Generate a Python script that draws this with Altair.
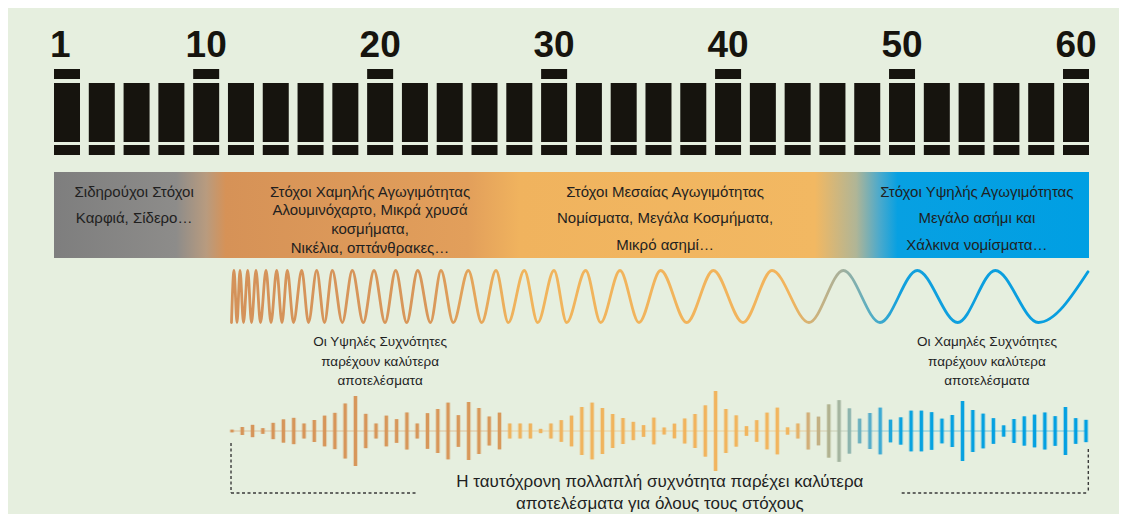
import altair as alt
import pandas as pd

# ---------------- data ----------------
# frequency dial: 30 positions, labelled ticks
DIAL_INDEX = list(range(30))
DIAL_LABELS = ["1", "10", "20", "30", "40", "50", "60"]
DIAL_LABEL_INDEX = [0, 4, 9, 14, 19, 24, 29]

# target groups (on the dial scale)
GROUP_TITLES = [
    "Σιδηρούχοι Στόχοι",
    "Στόχοι Χαμηλής Αγωγιμότητας",
    "Στόχοι Μεσαίας Αγωγιμότητας",
    "Στόχοι Υψηλής Αγωγιμότητας",
]
GROUP_EXAMPLES = [
    "Καρφιά, Σίδερο…",
    "Αλουμινόχαρτο, Μικρά χρυσά\nκοσμήματα,\nΝικέλια, οπτάνθρακες…",
    "Νομίσματα, Μεγάλα Κοσμήματα,\nΜικρό ασημί…",
    "Μεγάλο ασήμι και\nΧάλκινα νομίσματα…",
]
GROUP_CENTER = [1.93, 8.71, 17.19, 26.15]
GROUP_DENSE = [False, True, False, False]

# sweep wave: positions of successive troughs / peaks on the dial scale
WAVE_POS = [4.728, 4.800, 4.886, 4.972, 5.073, 5.194, 5.303, 5.432, 5.561, 5.720,
            5.863, 6.027, 6.179, 6.332, 6.510, 6.746, 6.941, 7.177, 7.401, 7.625,
            7.913, 8.200, 8.516, 8.824, 9.140, 9.447, 9.763, 10.080, 10.448, 10.749,
            11.103, 11.534, 11.919, 12.330, 12.684, 13.144, 13.529, 13.997, 14.362, 14.908,
            15.339, 15.894, 16.440, 17.064, 17.811, 18.576, 19.429, 20.263, 21.326, 22.312,
            23.367, 24.439, 25.600, 26.681, 27.917, 29.345]
WAVE_LEVEL = [-1, 1] * 27 + [-1, 0.95]

NOTE_TEXT = [
    "Οι Υψηλές Συχνότητες\nπαρέχουν καλύτερα\nαποτελέσματα",
    "Οι Χαμηλές Συχνότητες\nπαρέχουν καλύτερα\nαποτελέσματα",
]
NOTE_CENTER = [9.0, 26.44]

MULTI_TEXT = ["Η ταυτόχρονη πολλαπλή συχνότητα παρέχει καλύτερα\nαποτελέσματα για όλους τους στόχους"]
MULTI_CENTER = [17.04]

# multi-frequency pulse train: full height of each of the 84 pulses
PULSE_AMPLITUDE = [2.7, 8, 12.3, 5.7, 16.3, 23.3, 26.3, 15, 22, 30.7,
                   36.3, 55, 70, 34.3, 15, 30.7, 23.7, 37, 15, 35.7,
                   44, 56.7, 31.7, 58, 46, 29, 36.7, 15, 15, 15,
                   4.3, 15, 21.7, 30.7, 48, 56.7, 46, 34, 26, 18.3,
                   11.7, 26.7, 7, 14.7, 25, 34, 51.3, 80, 44, 31.3,
                   9.7, 21.7, 36.7, 46.7, 7.3, 15, 37, 28.7, 53.3, 61.7,
                   45.3, 24.7, 36, 46.7, 22.7, 27.3, 40.7, 40.7, 37.7, 24.7,
                   32, 60, 42, 34.7, 25.7, 11.3, 24, 29.3, 32.7, 37,
                   29.7, 48, 25.7, 22.3]

BRACKET_LEFT = [4.714, 10.068]
BRACKET_RIGHT = [23.99, 29.354]

# ---------------- styles ----------------
BG = "#e6efdf"
INK = "#16140e"
TEXT = "#1f1f1f"
FONT = "Liberation Sans"
HALF_BAR = 0.3736          # half of a dial bar, in dial units
PULSE_START, PULSE_STEP = 4.742, 0.29573

XS = alt.Scale(domain=[0, 29], range=[59, 1068], nice=False, zero=False)


def X(field):
    return alt.X(f"{field}:Q", scale=XS, axis=None)


def grad(stops):
    return alt.Gradient(gradient="linear", x1=0, x2=1, y1=0, y2=0,
                        stops=[alt.GradientStop(color=c, offset=o) for o, c in stops])


dial_df = pd.DataFrame({"idx": DIAL_INDEX})
label_df = pd.DataFrame({"idx": DIAL_LABEL_INDEX, "label": DIAL_LABELS})

bars = alt.Chart(dial_df).mark_rule(strokeWidth=26, color=INK, strokeCap="butt").encode(
    x=X("idx"), y=alt.value(75), y2=alt.value(134))
feet = alt.Chart(dial_df).mark_rule(strokeWidth=26, color=INK, strokeCap="butt").encode(
    x=X("idx"), y=alt.value(137), y2=alt.value(147))
caps = alt.Chart(label_df).mark_rule(strokeWidth=26, color=INK, strokeCap="butt").encode(
    x=X("idx"), y=alt.value(61), y2=alt.value(71))
labels = alt.Chart(label_df).transform_filter("datum.idx > 0").mark_text(
    font=FONT, fontSize=37, fontWeight="bold", color=INK, align="center", baseline="alphabetic"
).encode(x=X("idx"), y=alt.value(48.5), text="label:N")
label_first = alt.Chart(label_df).transform_filter("datum.idx == 0").mark_text(
    font=FONT, fontSize=37, fontWeight="bold", color=INK, align="left", baseline="alphabetic", dx=-17
).encode(x=X("idx"), y=alt.value(48.5), text="label:N")

band_df = pd.DataFrame({"start": [DIAL_INDEX[0]], "end": [DIAL_INDEX[-1]]})
band = alt.Chart(band_df).transform_calculate(
    x0=f"datum.start - {HALF_BAR}", x1=f"datum.end + {HALF_BAR}"
).mark_rect(fill=grad([
    (0, "#7e7e7e"), (0.118, "#8d8c8a"), (0.147, "#b89b7f"), (0.166, "#d69257"),
    (0.40, "#e29f5b"), (0.45, "#f0b35e"), (0.735, "#f2b862"), (0.775, "#b0b596"),
    (0.797, "#4eaacb"), (0.815, "#07a0e2"), (1, "#009fe3")])
).encode(x=X("x0"), x2="x1", y=alt.value(164), y2=alt.value(250))

group_df = pd.DataFrame({
    "center": GROUP_CENTER,
    "label": [t + "\n" + e for t, e in zip(GROUP_TITLES, GROUP_EXAMPLES)],
    "dense": GROUP_DENSE,
})
group_text = alt.Chart(group_df).transform_filter("!datum.dense").mark_text(
    font=FONT, fontSize=15, color=TEXT, align="center", baseline="alphabetic",
    lineBreak="\n", lineHeight=26.7
).encode(x=X("center"), y=alt.value(188.5), text="label:N")
group_text_dense = alt.Chart(group_df).transform_filter("datum.dense").mark_text(
    font=FONT, fontSize=15, color=TEXT, align="center", baseline="alphabetic",
    lineBreak="\n", lineHeight=18.8
).encode(x=X("center"), y=alt.value(188.5), text="label:N")

wave_df = pd.DataFrame({"pos": WAVE_POS, "level": WAVE_LEVEL, "order": list(range(len(WAVE_POS)))})
wave = alt.Chart(wave_df).mark_line(
    interpolate="monotone", strokeWidth=2.8, strokeCap="round",
    stroke=grad([(0, "#d4925a"), (0.23, "#d8975a"), (0.337, "#f0b45c"), (0.652, "#f2b45c"),
                 (0.71, "#a9b09a"), (0.745, "#58aec2"), (0.78, "#12a0dd"), (1, "#069ee0")])
).encode(
    x=X("pos"),
    y=alt.Y("level:Q", scale=alt.Scale(domain=[-1, 1], range=[314.5, 262.5], nice=False, zero=False), axis=None),
    order="order:Q",
)

note_df = pd.DataFrame({"center": NOTE_CENTER, "label": NOTE_TEXT})
notes = alt.Chart(note_df).mark_text(
    font=FONT, fontSize=13.5, color=TEXT, align="center", baseline="alphabetic",
    lineBreak="\n", lineHeight=19.5
).encode(x=X("center"), y=alt.value(338), text="label:N")

pulse_df = pd.DataFrame({"k": list(range(1, len(PULSE_AMPLITUDE) + 1)), "amp": PULSE_AMPLITUDE})
PULSE_COLOR = alt.Scale(
    domain=[1, 27, 28, 55, 56, 57, 58, 59, 60, 61, 62, 63, 64, 65, 66, 84],
    range=["#d6955a", "#d8985a", "#efb35e", "#f2b55e", "#e6b268", "#d2ae78", "#c3b083", "#b1b290",
           "#a5b5a0", "#8db4ae", "#6bb0bf", "#58adc9", "#3eaad3", "#1ea6da", "#0aa2df", "#02a0e2"],
)
YP = alt.Scale(domain=[-50, 50], range=[473, 373], nice=False, zero=False)
pulse_base = alt.Chart(pulse_df).transform_calculate(
    pos=f"{PULSE_START} + (datum.k - 1) * {PULSE_STEP}",
    pos2=f"{PULSE_START} + datum.k * {PULSE_STEP}",
    top="datum.amp / 2", bot="-datum.amp / 2",
)
center_line = pulse_base.transform_filter(f"datum.k < {len(PULSE_AMPLITUDE)}").mark_rule(
    strokeWidth=1.5, opacity=0.35
).encode(x=X("pos"), x2="pos2", y=alt.value(423),
         color=alt.Color("k:Q", scale=PULSE_COLOR, legend=None))
pulse_halo = pulse_base.mark_rule(strokeWidth=5, opacity=0.3, strokeCap="butt").encode(
    x=X("pos"), y=alt.Y("top:Q", scale=YP, axis=None), y2="bot:Q",
    color=alt.Color("k:Q", scale=PULSE_COLOR, legend=None))
pulses = pulse_base.mark_rule(strokeWidth=3, strokeCap="butt").encode(
    x=X("pos"), y=alt.Y("top:Q", scale=YP, axis=None), y2="bot:Q",
    color=alt.Color("k:Q", scale=PULSE_COLOR, legend=None))

multi_df = pd.DataFrame({"center": MULTI_CENTER, "label": MULTI_TEXT})
multi = alt.Chart(multi_df).mark_text(
    font=FONT, fontSize=17, color=TEXT, align="center", baseline="alphabetic",
    lineBreak="\n", lineHeight=22
).encode(x=X("center"), y=alt.value(479), text="label:N")

DASH = dict(strokeDash=[3, 2.5], strokeWidth=1.4, color="#3a3a3a")
bl_df = pd.DataFrame({"a": [BRACKET_LEFT[0]], "b": [BRACKET_LEFT[1]]})
br_df = pd.DataFrame({"a": [BRACKET_RIGHT[0]], "b": [BRACKET_RIGHT[1]]})
bl_v = alt.Chart(bl_df).mark_rule(**DASH).encode(x=X("a"), y=alt.value(435), y2=alt.value(485))
bl_h = alt.Chart(bl_df).mark_rule(**DASH).encode(x=X("a"), x2="b", y=alt.value(485))
br_v = alt.Chart(br_df).mark_rule(**DASH).encode(x=X("b"), y=alt.value(441), y2=alt.value(485))
br_h = alt.Chart(br_df).mark_rule(**DASH).encode(x=X("a"), x2="b", y=alt.value(485))

chart = alt.layer(
    band, bars, feet, caps, labels, label_first,
    group_text, group_text_dense, wave, notes,
    center_line, pulse_halo, pulses, multi, bl_v, bl_h, br_v, br_h,
).resolve_scale(x="independent", y="independent", color="independent").properties(
    width=1111, height=498, autosize="none",
    padding={"left": 0, "top": 0, "right": 0, "bottom": 8}, background=BG
).configure_view(stroke=None)

chart.save("out.html", embed_options={"renderer": "svg", "actions": False})
